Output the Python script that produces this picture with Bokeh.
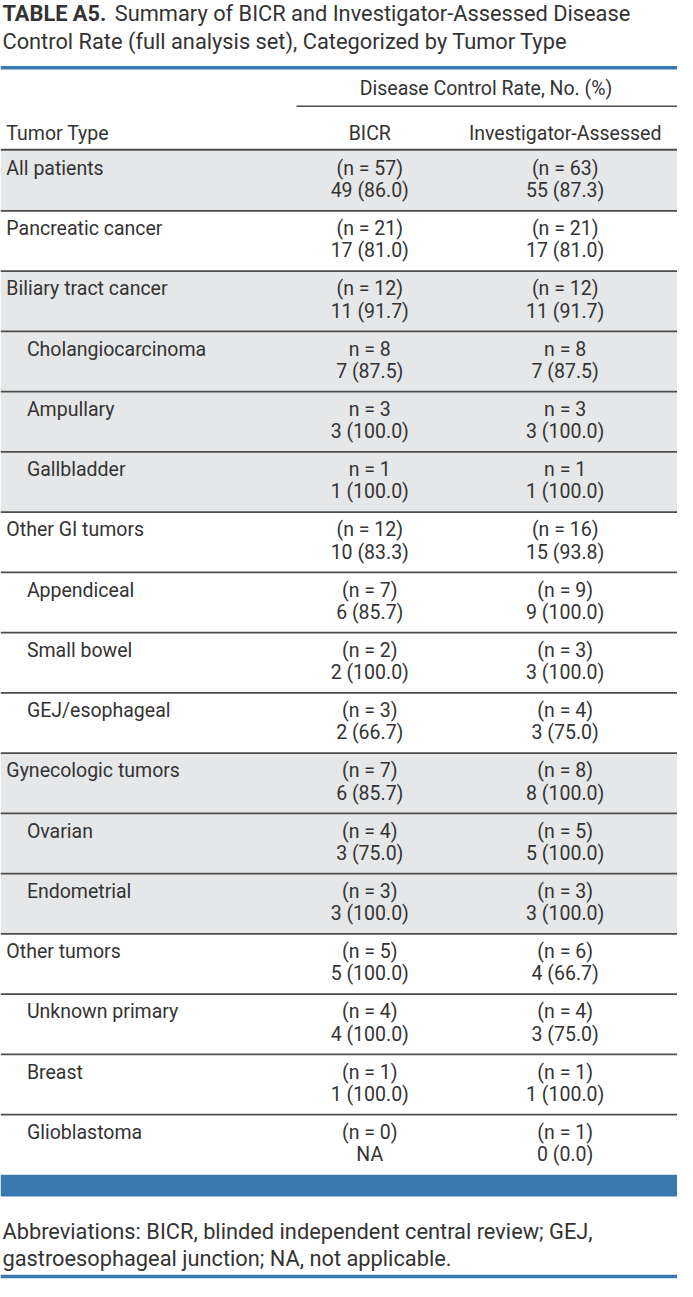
from bokeh.plotting import figure
from bokeh.models import Range1d
from bokeh.core.properties import value
from bokeh.embed import file_html
from bokeh.resources import INLINE

# ---------------- data ----------------
title_bold = "TABLE A5."
title_rest = "Summary of BICR and Investigator-Assessed Disease"
title_line2 = "Control Rate (full analysis set), Categorized by Tumor Type"
group_header = "Disease Control Rate, No. (%)"
col_headers = ["Tumor Type", "BICR", "Investigator-Assessed"]

labels = ["All patients", "Pancreatic cancer", "Biliary tract cancer", "Cholangiocarcinoma",
          "Ampullary", "Gallbladder", "Other GI tumors", "Appendiceal", "Small bowel",
          "GEJ/esophageal", "Gynecologic tumors", "Ovarian", "Endometrial", "Other tumors",
          "Unknown primary", "Breast", "Glioblastoma"]
indent = [0, 0, 0, 1, 1, 1, 0, 1, 1, 1, 0, 1, 1, 0, 1, 1, 1]
shaded = [1, 0, 1, 1, 1, 1, 0, 0, 0, 0, 1, 1, 1, 0, 0, 0, 0]
bicr_n = ["(n = 57)", "(n = 21)", "(n = 12)", "n = 8", "n = 3", "n = 1", "(n = 12)", "(n = 7)",
          "(n = 2)", "(n = 3)", "(n = 7)", "(n = 4)", "(n = 3)", "(n = 5)", "(n = 4)", "(n = 1)", "(n = 0)"]
bicr_v = ["49 (86.0)", "17 (81.0)", "11 (91.7)", "7 (87.5)", "3 (100.0)", "1 (100.0)", "10 (83.3)",
          "6 (85.7)", "2 (100.0)", "2 (66.7)", "6 (85.7)", "3 (75.0)", "3 (100.0)", "5 (100.0)",
          "4 (100.0)", "1 (100.0)", "NA"]
inv_n = ["(n = 63)", "(n = 21)", "(n = 12)", "n = 8", "n = 3", "n = 1", "(n = 16)", "(n = 9)",
         "(n = 3)", "(n = 4)", "(n = 8)", "(n = 5)", "(n = 3)", "(n = 6)", "(n = 4)", "(n = 1)", "(n = 1)"]
inv_v = ["55 (87.3)", "17 (81.0)", "11 (91.7)", "7 (87.5)", "3 (100.0)", "1 (100.0)", "15 (93.8)",
         "9 (100.0)", "3 (100.0)", "3 (75.0)", "8 (100.0)", "5 (100.0)", "3 (100.0)", "4 (66.7)",
         "3 (75.0)", "1 (100.0)", "0 (0.0)"]
footnote = ["Abbreviations: BICR, blinded independent central review; GEJ,",
            "gastroesophageal junction; NA, not applicable."]

# ---------------- layout ----------------
W, H = 693, 1297
FONT = value("Roboto")
TXT = "#333333"
BLUE = "#3a78b0"
GRAY = "#e6e7e8"
LINE = "#4d4d4d"
BODY = "19.5px"
BIG = "21.8px"

p = figure(width=677, height=1281, x_range=Range1d(0, W), y_range=Range1d(H, 0),
           output_backend="svg", toolbar_location=None, min_border=0)
p.axis.visible = False
p.grid.visible = False
p.outline_line_color = None
p.background_fill_color = "white"
p.border_fill_color = "white"

n = len(labels)
top0, rh = 152, 61
tops = [top0 + i * rh for i in range(n)]
bots = [t + rh for t in tops]

# shading
sh_t = [t for t, s in zip(tops, shaded) if s]
sh_b = [b for b, s in zip(bots, shaded) if s]
p.quad(left=0, right=W, top=sh_t, bottom=sh_b, fill_color=GRAY, line_color=None)

# row separators
p.segment(x0=0, x1=W, y0=tops[1:], y1=tops[1:], line_color=LINE, line_width=1.6)

# top rule, header rules
p.segment(x0=[0], x1=[W], y0=[68], y1=[68], line_color=BLUE, line_width=3.5)
p.segment(x0=[303], x1=[W], y0=[107], y1=[107], line_color=LINE, line_width=1.6)
p.segment(x0=[0], x1=[W], y0=[151], y1=[151], line_color=LINE, line_width=2)

# bottom blue bar and final rule
p.quad(left=0, right=W, top=top0 + n * rh, bottom=top0 + n * rh + 22, fill_color=BLUE, line_color=None)
p.segment(x0=[0], x1=[W], y0=[1292], y1=[1292], line_color=BLUE, line_width=3.5)

def txt(x, y, t, size=BODY, align="left", style="normal"):
    p.text(x=x, y=y, text=t, text_font=FONT, text_font_size=size, text_color=TXT,
           text_align=align, text_baseline="middle", text_font_style=style)

# title
txt([2], [13], [title_bold], size=BIG, style="bold")
txt([117], [13], [title_rest], size=BIG)
txt([2], [42], [title_line2], size=BIG)

# headers
txt([497], [89], [group_header], align="center")
txt([6], [135], [col_headers[0]])
txt([378], [135], [col_headers[1]], align="center")
txt([578], [135], [col_headers[2]], align="center")

# body
lx = [6 + 21 * k for k in indent]
txt(lx, [t + 18 for t in tops], labels)
txt([378] * n, [t + 18 for t in tops], bicr_n, align="center")
txt([378] * n, [t + 40.5 for t in tops], bicr_v, align="center")
txt([578] * n, [t + 18 for t in tops], inv_n, align="center")
txt([578] * n, [t + 40.5 for t in tops], inv_v, align="center")

# footnote
txt([2, 2], [1246, 1274], footnote, size=BIG)

open("out.html", "w").write(file_html(p, INLINE))
